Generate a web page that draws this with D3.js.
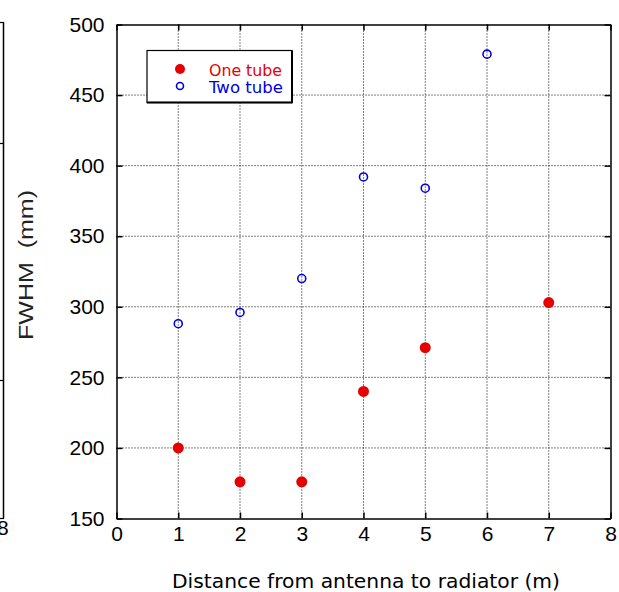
<!DOCTYPE html>
<html><head><meta charset="utf-8">
<script src="https://cdn.jsdelivr.net/npm/d3@7"></script>
<style>body{margin:0;background:#fff}</style>
</head><body>
<svg id="c" width="619" height="592"></svg>
<script>
const xTicks = [0,1,2,3,4,5,6,7,8];
const yTicks = [150,200,250,300,350,400,450,500];
const oneX = [1,2,3,4,5,7];
const oneY = [200,176,176,240,271,303];
const twoX = [1,2,3,4,5,6];
const twoY = [288,296,320,392,384,479];
const seriesNames = ["One tube","Two tube"];

const svg = d3.select("#c");
const L=116.5, R=610.5, T=24.5, B=518.5;
const x = d3.scaleLinear().domain([0,8]).range([L,R]);
const y = d3.scaleLinear().domain([150,500]).range([B,T]);
const tickFont = "'Liberation Sans', Arial, sans-serif";
const titleFont = "'DejaVu Sans', sans-serif";

// partial neighbouring chart edge on the left
svg.append("line").attr("x1",3.5).attr("x2",3.5).attr("y1",22.5).attr("y2",518.5).attr("stroke","#000").attr("stroke-width",1.5);
[22.5,143.5,380.5,518.5].forEach(v=>svg.append("line").attr("x1",0).attr("x2",4).attr("y1",v).attr("y2",v).attr("stroke","#000").attr("stroke-width",1.2));
svg.append("text").attr("x",-3).attr("y",535).attr("font-family",tickFont).attr("font-size",21).text("8");

// grid
const g = svg.append("g");
g.selectAll(".gx").data(xTicks.slice(1,-1)).join("line")
  .attr("x1",d=>x(d)).attr("x2",d=>x(d)).attr("y1",T).attr("y2",B)
  .attr("stroke","#000").attr("stroke-width",1).attr("stroke-dasharray","1,2");
g.selectAll(".gy").data(yTicks.slice(1,-1)).join("line")
  .attr("x1",L).attr("x2",R).attr("y1",d=>y(d)).attr("y2",d=>y(d))
  .attr("stroke","#000").attr("stroke-width",1).attr("stroke-dasharray","1,2");

// axes (inner ticks)
const xa = svg.append("g").attr("transform",`translate(0,${B})`)
  .call(d3.axisBottom(x).tickValues(xTicks).tickSize(-6).tickSizeOuter(0).tickPadding(8).tickFormat(d3.format("d")));
const ya = svg.append("g").attr("transform",`translate(${L},0)`)
  .call(d3.axisLeft(y).tickValues(yTicks).tickSize(-6).tickSizeOuter(0).tickPadding(12).tickFormat(d3.format("d")));
const xt = svg.append("g").attr("transform",`translate(0,${T})`)
  .call(d3.axisTop(x).tickValues(xTicks).tickSize(-6).tickSizeOuter(0).tickFormat(""));
const yr = svg.append("g").attr("transform",`translate(${R},0)`)
  .call(d3.axisRight(y).tickValues(yTicks).tickSize(-6).tickSizeOuter(0).tickFormat(""));
[xa,ya,xt,yr].forEach(a=>{
  a.select(".domain").attr("stroke","#000").attr("stroke-width",1.5);
  a.selectAll(".tick line").attr("stroke","#000").attr("stroke-width",1.5);
  a.selectAll("text").attr("font-family",tickFont).attr("font-size",21).attr("fill","#000");
});

// points
const one = oneX.map((v,i)=>({x:v,y:oneY[i]}));
const two = twoX.map((v,i)=>({x:v,y:twoY[i]}));
svg.append("g").selectAll("circle").data(one).join("circle")
  .attr("cx",d=>x(d.x)).attr("cy",d=>y(d.y)).attr("r",5.5).attr("fill","#e60000");
svg.append("g").selectAll("circle").data(two).join("circle")
  .attr("cx",d=>x(d.x)).attr("cy",d=>y(d.y)).attr("r",4).attr("fill","none").attr("stroke","#0000dd").attr("stroke-width",1.6);

// legend
svg.append("rect").attr("x",147).attr("y",50.5).attr("width",145).attr("height",52).attr("fill","#fff").attr("stroke","#000").attr("stroke-width",1.2);
svg.append("line").attr("x1",292).attr("x2",292).attr("y1",50.5).attr("y2",103).attr("stroke","#000").attr("stroke-width",2);
svg.append("line").attr("x1",147).attr("x2",292.5).attr("y1",102.5).attr("y2",102.5).attr("stroke","#000").attr("stroke-width",2);
svg.append("circle").attr("cx",180).attr("cy",69).attr("r",5).attr("fill","#e60000");
svg.append("circle").attr("cx",180).attr("cy",86).attr("r",3.5).attr("fill","none").attr("stroke","#0000dd").attr("stroke-width",1.6);
svg.append("text").attr("x",209).attr("y",75.5).attr("font-family",titleFont).attr("font-size",15.5).attr("textLength",73).attr("lengthAdjust","spacingAndGlyphs").attr("fill","#e60000").text(seriesNames[0]);
svg.append("text").attr("x",209).attr("y",92.5).attr("font-family",titleFont).attr("font-size",15.5).attr("textLength",74).attr("lengthAdjust","spacingAndGlyphs").attr("fill","#0000dd").text(seriesNames[1]);

// titles
svg.append("text").attr("x",172).attr("y",588).attr("font-family",titleFont).attr("font-size",19).attr("textLength",388).attr("lengthAdjust","spacingAndGlyphs").attr("fill","#000")
  .text("Distance from antenna to radiator (m)");
svg.append("text").attr("transform","translate(33,340) rotate(-90)").attr("font-family",tickFont).attr("font-size",20).attr("textLength",150).attr("lengthAdjust","spacingAndGlyphs").attr("fill","#222")
  .style("white-space","pre").text("FWHM  (mm)");
</script>
</body></html>
